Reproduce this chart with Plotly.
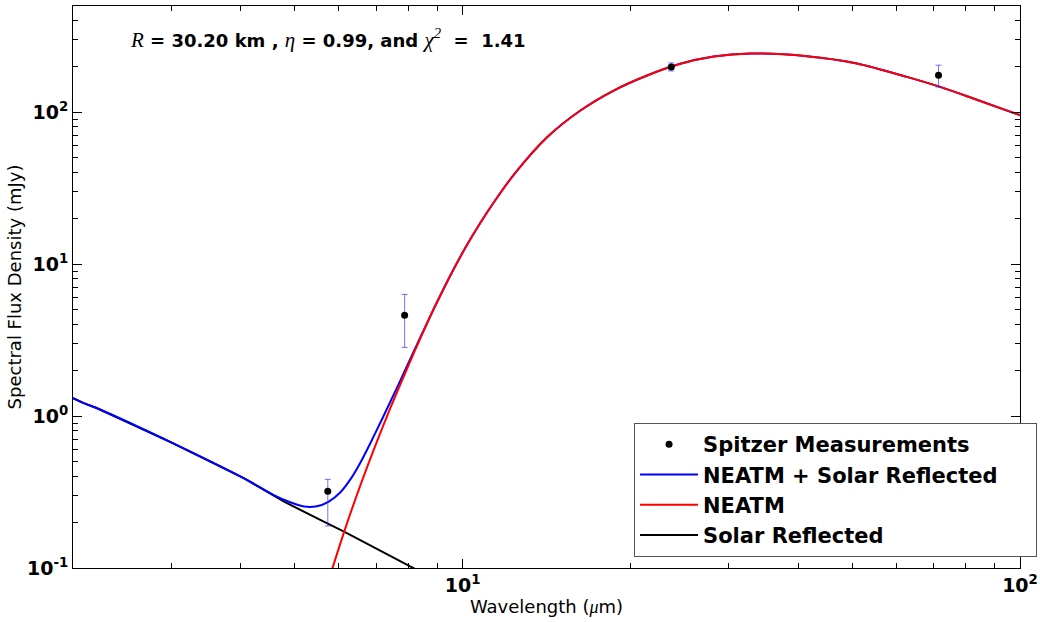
import plotly.graph_objects as go

# ---- data ----
spitzer_wl = [5.73, 7.87, 23.68, 71.42]
spitzer_flux = [0.32, 4.61, 198.6, 175.0]
spitzer_err_plus = [0.063, 1.71, 12.4, 29.0]
spitzer_err_minus = [0.131, 1.78, 11.7, 28.4]

neatm_wl = [5.80, 6.17, 6.565, 6.985, 7.43, 7.903, 8.408, 8.946, 9.517, 10.12,
            10.77, 11.38, 12.36, 14.19, 16.27, 18.67, 21.43, 24.59, 28.21, 32.82,
            41.48, 50.97, 62.66, 71.89, 82.47, 100.0]
neatm_flux = [0.092, 0.1858, 0.3551, 0.6482, 1.144, 1.950, 3.289, 5.387, 8.486, 12.86,
              18.79, 25.54, 38.81, 68.59, 102.6, 138.9, 174.4, 208.2, 232.5, 243.0,
              233.6, 209.2, 170.7, 146.7, 123.1, 95.6]

solar_wl = [2.0, 2.096, 2.199, 3.0, 4.056, 4.783, 5.566, 6.128, 8.178, 8.3]
solar_flux = [1.313, 1.212, 1.134, 0.6714, 0.3892, 0.2730, 0.2069, 0.1733, 0.0995, 0.0967]

total_wl_low = [2.0, 2.096, 2.199, 3.0, 4.056, 4.585, 4.918, 5.195, 5.475, 5.744,
                6.044, 6.299, 6.565, 6.841, 7.129, 7.638, 8.178, 8.764]
total_flux_low = [1.313, 1.212, 1.134, 0.6714, 0.3892, 0.3021, 0.2698, 0.2539, 0.2550, 0.2728,
                  0.3167, 0.3857, 0.4989, 0.6703, 0.9146, 1.556, 2.673, 4.604]
# above ~9 micron the combined model coincides with the NEATM curve
total_wl = total_wl_low + neatm_wl[7:]
total_flux = total_flux_low + neatm_flux[7:]

x_tickvals = [10, 100]
x_ticktext = ["<b>10<sup>1</sup></b>", "<b>10<sup>2</sup></b>"]
y_tickvals = [0.1, 1, 10, 100]
y_ticktext = ["<b>10<sup>-1</sup></b>", "<b>10<sup>0</sup></b>",
              "<b>10<sup>1</sup></b>", "<b>10<sup>2</sup></b>"]
x_minor = [2, 3, 4, 5, 6, 7, 8, 9, 20, 30, 40, 50, 60, 70, 80, 90]
y_minor = [0.2, 0.3, 0.4, 0.5, 0.6, 0.7, 0.8, 0.9, 2, 3, 4, 5, 6, 7, 8, 9,
           20, 30, 40, 50, 60, 70, 80, 90, 200, 300, 400]

SERIF = "font-family:Liberation Serif;font-style:italic;font-weight:normal"
NBSP = "\u00a0"

fig = go.Figure()

fig.add_trace(go.Scatter(
    x=solar_wl, y=solar_flux, mode="lines", name="<b>Solar Reflected</b>",
    line=dict(color="black", width=2), legendrank=4))
fig.add_trace(go.Scatter(
    x=total_wl, y=total_flux, mode="lines",
    name="<b>NEATM + Solar Reflected</b>" + NBSP * 5,
    line=dict(color="#0000ff", width=2, shape="spline", smoothing=0.8), legendrank=2))
fig.add_trace(go.Scatter(
    x=neatm_wl, y=neatm_flux, mode="lines", name="<b>NEATM</b>",
    line=dict(color="#ff0000", width=2, shape="spline", smoothing=0.8), legendrank=3))
fig.add_trace(go.Scatter(
    x=spitzer_wl, y=spitzer_flux, mode="markers", name="<b>Spitzer Measurements</b>",
    marker=dict(color="black", size=7),
    error_y=dict(type="data", symmetric=False, array=spitzer_err_plus,
                 arrayminus=spitzer_err_minus, color="rgba(40,40,255,0.65)",
                 thickness=1, width=3),
    legendrank=1))

axis_common = dict(
    type="log", showline=True, linecolor="black", linewidth=1, mirror="ticks",
    ticks="inside", ticklen=9, tickwidth=1, tickcolor="black",
    showgrid=False, zeroline=False,
    tickfont=dict(family="DejaVu Sans", size=19, color="black"),
)

fig.update_xaxes(
    **axis_common, range=[0.30103, 2], tickmode="array",
    tickvals=x_tickvals, ticktext=x_ticktext,
    minor=dict(tickmode="array", tickvals=x_minor, ticks="inside", ticklen=5,
               tickwidth=1, tickcolor="black", showgrid=False),
    title=dict(text="Wavelength (<span style='" + SERIF + "'>μ</span>m)",
               font=dict(family="DejaVu Sans", size=18, color="black"), standoff=5),
)
fig.update_yaxes(
    **axis_common, range=[-1, 2.69897], tickmode="array",
    tickvals=y_tickvals, ticktext=y_ticktext,
    minor=dict(tickmode="array", tickvals=y_minor, ticks="inside", ticklen=5,
               tickwidth=1, tickcolor="black", showgrid=False),
    title=dict(text="Spectral Flux Density (mJy)",
               font=dict(family="DejaVu Sans", size=18, color="black"), standoff=0),
)

ann = ("<span style='" + SERIF + ";font-size:21px'>R</span><b> = 30.20 km , </b>"
       "<span style='" + SERIF + ";font-size:21px'>η</span><b> = 0.99, and </b>"
       "<span style='" + SERIF + ";font-size:21px'>χ<sup>2</sup></span><b>  =  1.41</b>")
fig.add_annotation(
    text=ann, xref="paper", yref="paper", x=0.058, y=0.943,
    xanchor="left", yanchor="middle", showarrow=False,
    font=dict(family="DejaVu Sans", size=18, color="black"))

fig.update_layout(
    width=1040, height=622,
    margin=dict(l=73, r=20, t=6, b=54, autoexpand=False),
    paper_bgcolor="white", plot_bgcolor="white",
    font=dict(family="DejaVu Sans", color="black"),
    legend=dict(
        x=1.018, y=0.0196, xanchor="right", yanchor="bottom",
        bgcolor="white", bordercolor="#555555", borderwidth=1,
        font=dict(family="DejaVu Sans", size=21, color="black"),
        traceorder="normal", itemwidth=58,
    ),
    showlegend=True,
)

fig.write_html("out.html")
